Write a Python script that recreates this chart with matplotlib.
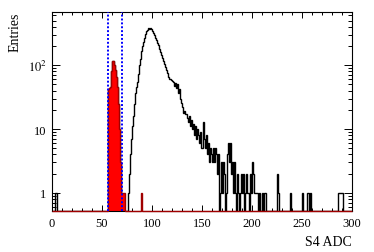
import matplotlib

matplotlib.use("Agg")

import matplotlib.pyplot as plt
import numpy as np
from matplotlib.ticker import FixedLocator, FixedFormatter, LogLocator, MultipleLocator, NullFormatter

plt.rcParams["font.family"] = ["Liberation Serif", "DejaVu Serif"]
plt.rcParams["mathtext.fontset"] = "stix"

# histogram binning: 300 bins of 1 ADC count
N_BINS = 300
X_MIN, X_MAX = 0, 300
Y_MIN, Y_MAX = 0.52, 680

# all events (black line), non-empty bins only
black_bins = [3, 4,
              56, 57, 58, 59, 60, 61, 62, 63, 64, 65, 66, 67, 68, 69,
              76, 77, 78, 79, 80, 81, 82, 83, 84, 85, 86, 87, 88, 89,
              90, 91, 92, 93, 94, 95, 96, 97, 98, 99,
              100, 101, 102, 103, 104, 105, 106, 107, 108, 109,
              110, 111, 112, 113, 114, 115, 116, 117, 118, 119,
              120, 121, 122, 123, 124, 125, 126, 127, 128, 129,
              130, 131, 132, 133, 134, 135, 136, 137, 138, 139,
              140, 141, 142, 143, 144, 145, 146, 147, 148, 149,
              150, 151, 152, 153, 154, 155, 156, 157, 158, 159,
              160, 161, 162, 163, 164, 165, 166, 168, 169,
              170, 171, 172, 174, 175, 176, 177, 178, 179,
              180, 181, 182, 183, 185, 186, 188, 189,
              190, 191, 193, 194, 195, 196, 198, 199,
              200, 201, 202, 203, 204, 205, 207, 210, 212, 213,
              225, 226, 238, 250, 255, 256, 258,
              286, 287, 288, 289, 290]
black_counts = [1, 1,
                43, 44, 45, 80, 115, 118, 100, 85, 65, 45, 25, 10, 3, 1,
                1, 2, 4, 7, 11, 16, 25, 36, 45, 55, 72, 100, 125, 165,
                200, 230, 270, 310, 340, 360, 378, 368, 380, 362,
                345, 320, 300, 270, 245, 225, 205, 182, 162, 145,
                130, 115, 104, 94, 84, 76, 66, 61, 60, 58,
                57, 55, 48, 52, 44, 50, 36, 42, 30, 26,
                22, 18, 19, 17, 17, 15, 13, 16, 11, 14,
                10, 12, 8, 11, 7, 10, 8, 6, 9, 5,
                5, 13, 7, 5, 8, 4, 6, 3, 5, 4,
                3, 5, 3, 5, 4, 2, 4, 1, 3,
                1, 3, 2, 1, 4, 6, 3, 6, 2,
                3, 1, 3, 1, 2, 1, 1, 2,
                1, 2, 1, 2, 1, 1, 2, 1,
                3, 2, 1, 1, 1, 1, 1, 1, 1, 1,
                2, 1, 1, 1, 1, 1, 1,
                1, 1, 1, 1, 1]

# events passing the selection (red fill)
red_bins = [56, 57, 58, 59, 60, 61, 62, 63, 64, 65, 66, 67, 68, 69, 70, 71, 72, 89]
red_counts = [43, 44, 45, 80, 115, 118, 100, 85, 65, 45, 25, 10, 3, 1, 1, 1, 1, 1]

# selection window (blue dotted lines)
cut_lo, cut_hi = 56, 70

x_ticks = [0, 50, 100, 150, 200, 250, 300]
y_ticks = [1, 10, 100]
y_ticklabels = ["1", "10", "$10^{2}$"]


def _fill_hist(bins, counts):
    h = np.zeros(N_BINS)
    h[np.asarray(bins)] = counts
    return h


edges = np.linspace(X_MIN, X_MAX, N_BINS + 1)
black = _fill_hist(black_bins, black_counts)
red = _fill_hist(red_bins, red_counts)
# empty bins are drawn on the frame bottom, as ROOT does on a log axis
black_draw = np.where(black > 0, black, Y_MIN)
red_draw = np.where(red > 0, red, Y_MIN)

fig = plt.figure(figsize=(3.74, 2.53), dpi=100)
ax = fig.add_axes([52 / 374, 41 / 253, 300 / 374, 199 / 253])

ax.stairs(black_draw, edges, baseline=None, color="black", linewidth=1.0, zorder=2)
ax.stairs(red_draw, edges, baseline=Y_MIN, fill=True, color="#ff0000", linewidth=0, zorder=2.2)
ax.stairs(red_draw, edges, baseline=None, color="#a00000", linewidth=1.0, zorder=3, clip_on=False)
for xc in (cut_lo, cut_hi):
    ax.axvline(xc, color="#0000ff", linestyle=(0, (1, 1)), linewidth=1.4, zorder=4)

ax.set_yscale("log")
ax.set_xlim(X_MIN, X_MAX)
ax.set_ylim(Y_MIN, Y_MAX)

ax.xaxis.set_major_locator(FixedLocator(x_ticks))
ax.xaxis.set_minor_locator(MultipleLocator(10))
ax.yaxis.set_major_locator(FixedLocator(y_ticks))
ax.yaxis.set_major_formatter(FixedFormatter(y_ticklabels))
ax.yaxis.set_minor_locator(LogLocator(base=10, subs=np.arange(2, 10), numticks=20))
ax.yaxis.set_minor_formatter(NullFormatter())

ax.tick_params(which="both", direction="in", top=True, right=True, labelsize=9, width=0.7)
ax.tick_params(axis="x", which="major", length=4, pad=4)
ax.tick_params(axis="x", which="minor", length=2)
ax.tick_params(axis="y", which="major", length=6, pad=4)
ax.tick_params(axis="y", which="minor", length=3)
for sp in ax.spines.values():
    sp.set_linewidth(0.8)

ax.set_xlabel("S4 ADC", fontsize=10, loc="right", labelpad=5)
ax.set_ylabel("Entries", fontsize=10, loc="top", labelpad=4)

fig.savefig("out.png", dpi=100)
plt.close(fig)
